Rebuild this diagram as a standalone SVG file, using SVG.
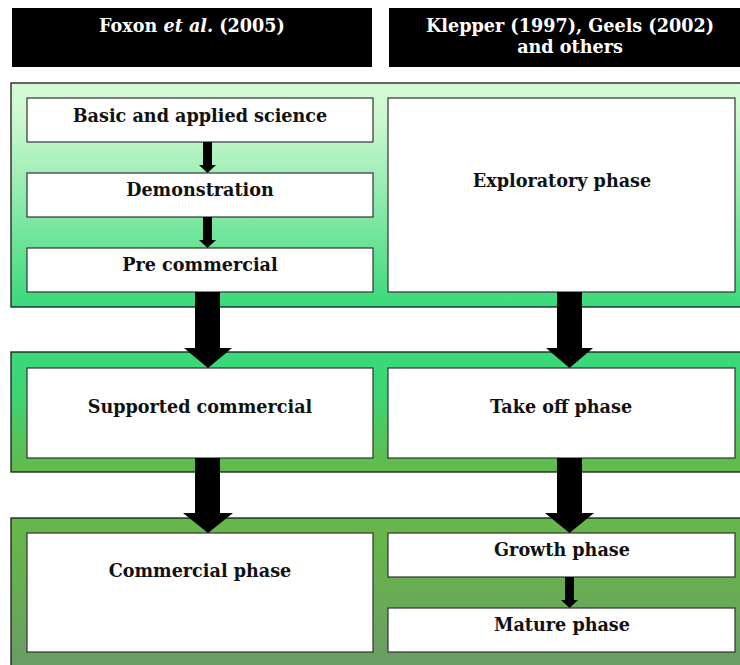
<svg xmlns="http://www.w3.org/2000/svg" width="740" height="665" viewBox="0 0 740 665">
<defs>
<linearGradient id="g1" x1="0" y1="0" x2="0" y2="1"><stop offset="0" stop-color="#d3fbd5"/><stop offset="0.15" stop-color="#cff8d2"/><stop offset="1" stop-color="#3ad97b"/></linearGradient>
<linearGradient id="g2" x1="0" y1="0" x2="0" y2="1"><stop offset="0" stop-color="#3ad97b"/><stop offset="0.35" stop-color="#3dd574"/><stop offset="1" stop-color="#64b84a"/></linearGradient>
<linearGradient id="g3" x1="0" y1="0" x2="0" y2="1"><stop offset="0" stop-color="#66b84b"/><stop offset="0.35" stop-color="#68b04f"/><stop offset="1" stop-color="#6b9a6b"/></linearGradient>
<style>
.band{stroke:#1a1a1a;stroke-width:1.3}
.box{fill:#fff;stroke:#333;stroke-width:1.2}
.hdr{fill:#000}
.t{font-family:"DejaVu Serif","Liberation Serif",serif;font-weight:bold;font-size:17.6px;fill:#111;text-anchor:middle}
.w{fill:#fff}
.arr{fill:#000}
</style>
</defs>
<g id="header-foxon"><rect class="hdr" x="12" y="8" width="360" height="59"/><text class="t w" x="192" y="32">Foxon <tspan font-style="italic">et al.</tspan> (2005)</text></g>
<g id="header-klepper"><rect class="hdr" x="389" y="8" width="351" height="59"/><text class="t w" x="570" y="32">Klepper (1997), Geels (2002)</text><text class="t w" x="570" y="53">and others</text></g>
<g id="band1"><rect class="band" x="11" y="83" width="740" height="224" fill="url(#g1)"/></g>
<g id="band2"><rect class="band" x="11" y="352" width="740" height="120" fill="url(#g2)"/></g>
<g id="band3"><rect class="band" x="11" y="518" width="740" height="160" fill="url(#g3)"/></g>
<g id="basic"><rect class="box" x="27" y="98" width="346" height="44"/><text class="t" x="200" y="122">Basic and applied science</text></g>
<g id="demonstration"><rect class="box" x="27" y="173" width="346" height="44"/><text class="t" x="200" y="196">Demonstration</text></g>
<g id="precommercial"><rect class="box" x="27" y="248" width="346" height="44"/><text class="t" x="200" y="271">Pre commercial</text></g>
<g id="exploratory"><rect class="box" x="388" y="98" width="347" height="194"/><text class="t" x="562" y="187">Exploratory phase</text></g>
<g id="supported"><rect class="box" x="27" y="368" width="346" height="90"/><text class="t" x="200" y="413">Supported commercial</text></g>
<g id="takeoff"><rect class="box" x="388" y="368" width="347" height="90"/><text class="t" x="561" y="413">Take off phase</text></g>
<g id="commercial"><rect class="box" x="27" y="533" width="346" height="119"/><text class="t" x="200" y="577">Commercial phase</text></g>
<g id="growth"><rect class="box" x="388" y="533" width="347" height="44"/><text class="t" x="562" y="556">Growth phase</text></g>
<g id="mature"><rect class="box" x="388" y="608" width="347" height="44"/><text class="t" x="562" y="631">Mature phase</text></g>
<g id="connectors">
<polygon class="arr" points="203,142 212,142 212,165 216,165 207.5,173 199,165 203,165"/>
<polygon class="arr" points="203,217 212,217 212,240 216,240 207.5,248 199,240 203,240"/>
<polygon class="arr" points="565,577 574,577 574,600 578,600 569.5,608 561,600 565,600"/>
<polygon class="arr" points="195,292 220,292 220,348 232,348 208,368 184,348 195,348"/>
<polygon class="arr" points="557,292 582,292 582,348 593,348 569.5,368 546,348 557,348"/>
<polygon class="arr" points="195,458 220,458 220,513 233,513 208,533 183,513 195,513"/>
<polygon class="arr" points="557,458 582,458 582,513 594,513 569.5,533 545,513 557,513"/>
</g>
</svg>
